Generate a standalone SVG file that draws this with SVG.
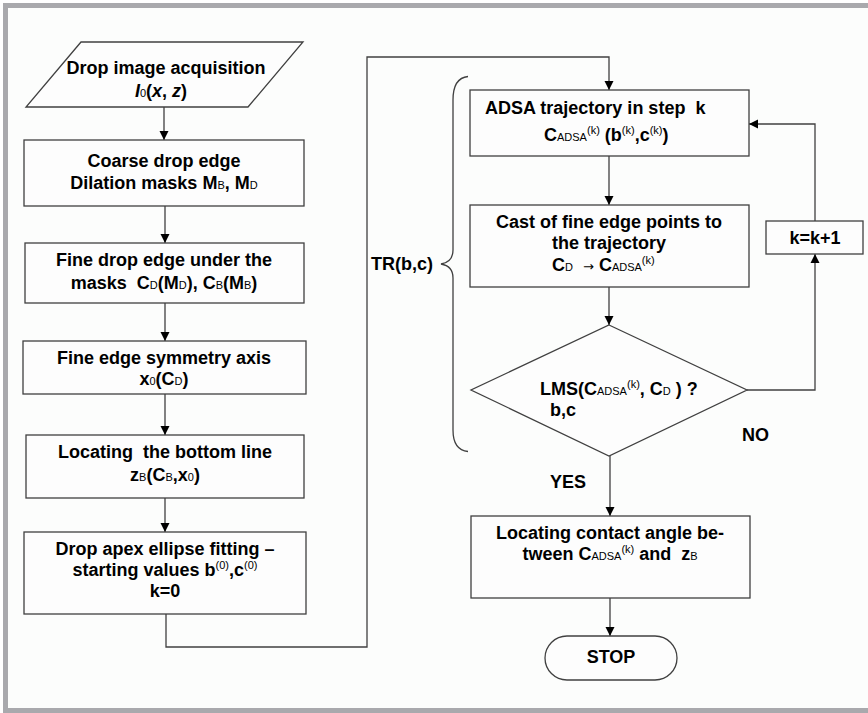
<svg xmlns="http://www.w3.org/2000/svg" width="868" height="713" viewBox="0 0 868 713">
<style>
text{font-family:"Liberation Sans",Arial,sans-serif;font-size:18px;font-weight:bold;fill:#000;white-space:pre}
.c{text-anchor:middle}
.s{font-size:11px;font-weight:normal}
.a{font-family:"DejaVu Sans",sans-serif;font-size:13px;font-weight:normal}
.i{font-style:italic}
.box{fill:#fdfdfd;stroke:#404040;stroke-width:1.3}
.ln{fill:none;stroke:#404040;stroke-width:1.3}
</style>
<defs>
<marker id="ah" markerUnits="userSpaceOnUse" markerWidth="10" markerHeight="10" refX="9" refY="5" orient="auto">
<path d="M0,0.5 L9,5 L0,9.5 z" fill="#000"/>
</marker>
</defs>
<rect x="5.5" y="5.5" width="870" height="705" fill="#fcfdfc" stroke="#a9a9ad" stroke-width="5"/>

<g id="connectors">
<line class="ln" x1="164" y1="107" x2="164" y2="140" marker-end="url(#ah)"/>
<line class="ln" x1="165" y1="206" x2="165" y2="243" marker-end="url(#ah)"/>
<line class="ln" x1="165" y1="303" x2="165" y2="341" marker-end="url(#ah)"/>
<line class="ln" x1="165" y1="394" x2="165" y2="435" marker-end="url(#ah)"/>
<line class="ln" x1="165" y1="498" x2="165" y2="532" marker-end="url(#ah)"/>
<polyline class="ln" points="166,614 166,647 367,647 367,57 609,57 609,90" marker-end="url(#ah)"/>
<line class="ln" x1="609" y1="156" x2="609" y2="205" marker-end="url(#ah)"/>
<line class="ln" x1="609" y1="287" x2="609" y2="325" marker-end="url(#ah)"/>
<polyline class="ln" points="747,390 815,390 815,254" marker-end="url(#ah)"/>
<polyline class="ln" points="815,221 815,124 749,124" marker-end="url(#ah)"/>
<line class="ln" x1="610" y1="456" x2="610" y2="516" marker-end="url(#ah)"/>
<line class="ln" x1="610" y1="598" x2="610" y2="636" marker-end="url(#ah)"/>
</g>

<g id="acquisition">
<polygon class="box" points="81,42 303,42 248,107 26,107"/>
<text class="c" x="166" y="74">Drop image acquisition</text>
<text class="c" x="161" y="97"><tspan class="i">I</tspan><tspan class="s">0</tspan>(<tspan class="i">x</tspan>, <tspan class="i">z</tspan>)</text>
</g>

<g id="coarse">
<rect class="box" x="24" y="140" width="280" height="66"/>
<text class="c" x="164" y="167">Coarse drop edge</text>
<text class="c" x="164" y="189">Dilation masks M<tspan class="s">B</tspan>, M<tspan class="s">D</tspan></text>
</g>

<g id="fine">
<rect class="box" x="25" y="243" width="279" height="60"/>
<text class="c" x="164" y="266">Fine drop edge under the</text>
<text class="c" x="164" y="289">masks  C<tspan class="s">D</tspan>(M<tspan class="s">D</tspan>), C<tspan class="s">B</tspan>(M<tspan class="s">B</tspan>)</text>
</g>

<g id="symmetry">
<rect class="box" x="23" y="341" width="283" height="53"/>
<text class="c" x="164" y="364">Fine edge symmetry axis</text>
<text class="c" x="164" y="385">x<tspan class="s">0</tspan>(C<tspan class="s">D</tspan>)</text>
</g>

<g id="bottomline">
<rect class="box" x="26" y="435" width="278" height="63"/>
<text class="c" x="165" y="458">Locating  the bottom line</text>
<text class="c" x="165" y="481">z<tspan class="s">B</tspan>(C<tspan class="s">B</tspan>,x<tspan class="s">0</tspan>)</text>
</g>

<g id="ellipse">
<rect class="box" x="24" y="532" width="282" height="82"/>
<text class="c" x="165" y="555">Drop apex ellipse fitting –</text>
<text class="c" x="165" y="576">starting values b<tspan class="s" dy="-7">(0)</tspan><tspan dy="7">,c</tspan><tspan class="s" dy="-7">(0)</tspan></text>
<text class="c" x="165" y="597">k=0</text>
</g>

<g id="brace">
<path class="ln" d="M468,76.5 Q453,78 453,100 L453,250 Q453,262 441,264 Q453,266 453,278 L453,430 Q453,450 468,451.5"/>
<text x="371" y="270">TR(b,c)</text>
</g>

<g id="adsa">
<rect class="box" x="470" y="90" width="279" height="66"/>
<text x="485" y="114">ADSA trajectory in step  k</text>
<text x="544" y="141">C<tspan class="s">ADSA</tspan><tspan class="s" dy="-7">(k)</tspan><tspan dy="7"> (b</tspan><tspan class="s" dy="-7">(k)</tspan><tspan dy="7">,c</tspan><tspan class="s" dy="-7">(k)</tspan><tspan dy="7">)</tspan></text>
</g>

<g id="cast">
<rect class="box" x="470" y="205" width="279" height="82"/>
<text class="c" x="609" y="228">Cast of fine edge points to</text>
<text class="c" x="609" y="249">the trajectory</text>
<text x="552" y="271">C<tspan class="s">D</tspan>  <tspan class="a">→</tspan> C<tspan class="s">ADSA</tspan><tspan class="s" dy="-7">(k)</tspan></text>
</g>

<g id="lms">
<polygon class="box" points="609,325 747,390 609,456 471,390"/>
<text x="540" y="395">LMS(C<tspan class="s">ADSA</tspan><tspan class="s" dy="-7">(k)</tspan><tspan dy="7">, C</tspan><tspan class="s">D</tspan> ) ?</text>
<text x="550" y="416">b,c</text>
<text x="742" y="441">NO</text>
<text x="550" y="488">YES</text>
</g>

<g id="increment">
<rect class="box" x="766" y="221" width="97" height="33"/>
<text class="c" x="815" y="244">k=k+1</text>
</g>

<g id="contact">
<rect class="box" x="471" y="516" width="279" height="82"/>
<text class="c" x="610" y="539">Locating contact angle be-</text>
<text class="c" x="610" y="560">tween C<tspan class="s">ADSA</tspan><tspan class="s" dy="-7">(k)</tspan><tspan dy="7"> and  z</tspan><tspan class="s">B</tspan></text>
</g>

<g id="stop">
<rect class="box" x="545" y="636" width="132" height="44" rx="22" ry="22"/>
<text class="c" x="611" y="663">STOP</text>
</g>
</svg>
